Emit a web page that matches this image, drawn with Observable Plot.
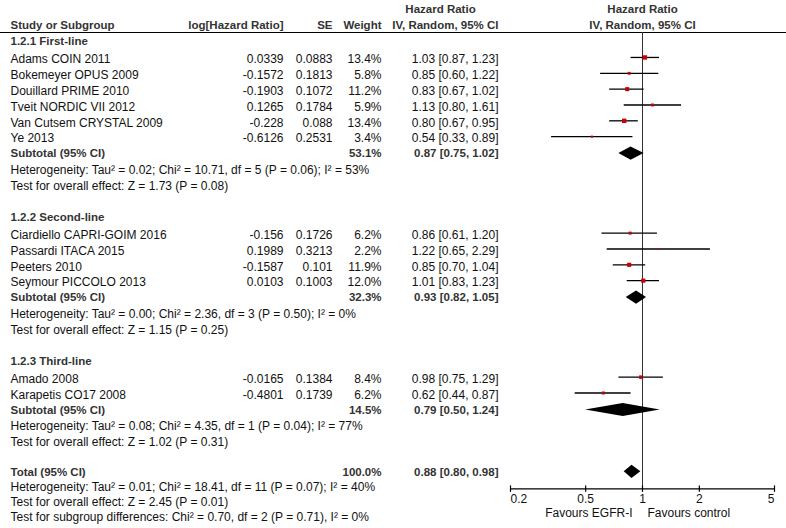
<!DOCTYPE html>
<html>
<head>
<meta charset="utf-8">
<script src="https://cdn.jsdelivr.net/npm/d3@7"></script>
<script src="https://cdn.jsdelivr.net/npm/@observablehq/plot@0.6"></script>
<style>
  body { margin: 0; background: #fff; }
  #chart { position: relative; width: 786px; height: 528px; }
  #chart svg { position: absolute; left: 0; top: 0; }
</style>
</head>
<body>
<div id="chart"></div>
<script>
// ---------------- DATA ----------------
const groupNames = ["1.2.1 First-line", "1.2.2 Second-line", "1.2.3 Third-line"];
const studyNames = [
  "Adams COIN 2011", "Bokemeyer OPUS 2009", "Douillard PRIME 2010", "Tveit NORDIC VII 2012",
  "Van Cutsem CRYSTAL 2009", "Ye 2013",
  "Ciardiello CAPRI-GOIM 2016", "Passardi ITACA 2015", "Peeters 2010", "Seymour PICCOLO 2013",
  "Amado 2008", "Karapetis CO17 2008"
];
const studyGroup = [0, 0, 0, 0, 0, 0, 1, 1, 1, 1, 2, 2];
const logHR = ["0.0339", "-0.1572", "-0.1903", "0.1265", "-0.228", "-0.6126", "-0.156", "0.1989", "-0.1587", "0.0103", "-0.0165", "-0.4801"];
const seValues = ["0.0883", "0.1813", "0.1072", "0.1784", "0.088", "0.2531", "0.1726", "0.3213", "0.101", "0.1003", "0.1384", "0.1739"];
const weights = [13.4, 5.8, 11.2, 5.9, 13.4, 3.4, 6.2, 2.2, 11.9, 12.0, 8.4, 6.2];
const hrValues = [1.03, 0.85, 0.83, 1.13, 0.80, 0.54, 0.86, 1.22, 0.85, 1.01, 0.98, 0.62];
const hrLow = [0.87, 0.60, 0.67, 0.80, 0.67, 0.33, 0.61, 0.65, 0.70, 0.83, 0.75, 0.44];
const hrHigh = [1.23, 1.22, 1.02, 1.61, 0.95, 0.89, 1.20, 2.29, 1.04, 1.23, 1.29, 0.87];

const subtotalWeights = [53.1, 32.3, 14.5];
const subtotalHR = [0.87, 0.93, 0.79];
const subtotalLow = [0.75, 0.82, 0.50];
const subtotalHigh = [1.02, 1.05, 1.24];
const groupHeterogeneity = [
  "Heterogeneity: Tau² = 0.02; Chi² = 10.71, df = 5 (P = 0.06); I² = 53%",
  "Heterogeneity: Tau² = 0.00; Chi² = 2.36, df = 3 (P = 0.50); I² = 0%",
  "Heterogeneity: Tau² = 0.08; Chi² = 4.35, df = 1 (P = 0.04); I² = 77%"
];
const groupOverallEffect = [
  "Test for overall effect: Z = 1.73 (P = 0.08)",
  "Test for overall effect: Z = 1.15 (P = 0.25)",
  "Test for overall effect: Z = 1.02 (P = 0.31)"
];

const totalWeight = 100.0;
const totalHR = 0.88;
const totalLow = 0.80;
const totalHigh = 0.98;
const totalHeterogeneity = "Heterogeneity: Tau² = 0.01; Chi² = 18.41, df = 11 (P = 0.07); I² = 40%";
const totalOverallEffect = "Test for overall effect: Z = 2.45 (P = 0.01)";
const subgroupDifferences = "Test for subgroup differences: Chi² = 0.70, df = 2 (P = 0.71), I² = 0%";

const axisTicks = [0.2, 0.5, 1, 2, 5];
const axisTickLabels = ["0.2", "0.5", "1", "2", "5"];
const favoursLeft = "Favours EGFR-I";
const favoursRight = "Favours control";

const headerStudy = "Study or Subgroup";
const headerLogHR = "log[Hazard Ratio]";
const headerSE = "SE";
const headerWeight = "Weight";
const headerHR1 = "Hazard Ratio";
const headerHR2 = "IV, Random, 95% CI";

// ---------------- LAYOUT ----------------
const W = 786, H = 528;
const FONT = "'Liberation Sans', Arial, Helvetica, sans-serif";
const REG = 12, BOLD = 11.5;
const TXT = "#111", BTXT = "#333";
const COL = { name: 10, logHR: 283, se: 332, weight: 381, ci: 498, ciHead: 440 };
const GAP = { groupFirst: 2.56, group: 1.94, studyFirst: 1.12, study: 0.99, subtotal: 0.94,
  het: 1.03, test: 1.0, total: 1.84, totalHet: 0.97, totalTest: 0.95, subdiff: 0.92 };
const Y = { head1: 0.53, head2: 1.53, rule: 2.0, axis: 30.52, tickLab: 31.16, favours: 32.06 };
const MARK_SHIFT = -0.12, DIAMOND_HALF = 0.41;

const fmt2 = v => v.toFixed(2);
const ciText = (h, l, u) => `${fmt2(h)} [${fmt2(l)}, ${fmt2(u)}]`;

let pos = 0;
const rows = [];
const add = (kind, gapKey, obj) => { pos += GAP[gapKey]; rows.push({ kind, y: pos, ...obj }); };

groupNames.forEach((g, gi) => {
  add("group", gi === 0 ? "groupFirst" : "group", { label: g });
  let first = true;
  studyNames.forEach((s, i) => {
    if (studyGroup[i] !== gi) return;
    add("study", first ? "studyFirst" : "study", {
      label: s, logHR: logHR[i], se: seValues[i], w: weights[i],
      wText: weights[i].toFixed(1) + "%", hr: hrValues[i], lo: hrLow[i], hi: hrHigh[i],
      ci: ciText(hrValues[i], hrLow[i], hrHigh[i])
    });
    first = false;
  });
  add("subtotal", "subtotal", {
    label: "Subtotal (95% CI)", wText: subtotalWeights[gi].toFixed(1) + "%",
    hr: subtotalHR[gi], lo: subtotalLow[gi], hi: subtotalHigh[gi],
    ci: ciText(subtotalHR[gi], subtotalLow[gi], subtotalHigh[gi])
  });
  add("note", "het", { label: groupHeterogeneity[gi] });
  add("note", "test", { label: groupOverallEffect[gi] });
});
add("subtotal", "total", {
  label: "Total (95% CI)", wText: totalWeight.toFixed(1) + "%",
  hr: totalHR, lo: totalLow, hi: totalHigh, ci: ciText(totalHR, totalLow, totalHigh)
});
add("note", "totalHet", { label: totalHeterogeneity });
add("note", "totalTest", { label: totalOverallEffect });
add("note", "subdiff", { label: subgroupDifferences });

const studyRows = rows.filter(r => r.kind === "study");
const summaryRows = rows.filter(r => r.kind === "subtotal");
const boldRows = rows.filter(r => r.kind === "group" || r.kind === "subtotal");
const noteRows = rows.filter(r => r.kind === "note");

const diamondPts = summaryRows.flatMap((r, i) => [
  { id: i, x: r.lo, y1: r.y, y2: r.y },
  { id: i, x: r.hr, y1: r.y - DIAMOND_HALF, y2: r.y + DIAMOND_HALF },
  { id: i, x: r.hi, y1: r.y, y2: r.y }
]);

const yScale = { domain: [0, H / 16], range: [0, H], axis: null };
const common = {
  width: W, height: H, margin: 0,
  style: { fontFamily: FONT, fontSize: REG + "px", background: "transparent", overflow: "visible" },
  y: yScale
};

// ---------------- TABLE ----------------
const headers = [
  { t: headerStudy, x: COL.name, a: "start", y: Y.head2 },
  { t: headerLogHR, x: COL.logHR, a: "end", y: Y.head2 },
  { t: headerSE, x: COL.se, a: "end", y: Y.head2 },
  { t: headerWeight, x: COL.weight, a: "end", y: Y.head2 },
  { t: headerHR1, x: COL.ciHead, a: "middle", y: Y.head1 },
  { t: headerHR2, x: COL.ci, a: "end", y: Y.head2 }
];
const txt = (data, opts) => Plot.text(data, { fontSize: REG, fill: TXT, ...opts });
const btxt = (data, opts) => Plot.text(data, { fontSize: BOLD, fill: BTXT, fontWeight: "bold", ...opts });

const table = Plot.plot({
  ...common,
  x: { domain: [0, W], range: [0, W], axis: null },
  marks: [
    Plot.ruleY([Y.rule], { x1: 0, x2: W, stroke: "#000", strokeWidth: 1 }),
    ...["start", "middle", "end"].map(a =>
      btxt(headers.filter(h => h.a === a), { x: "x", y: "y", text: "t", textAnchor: a })),
    btxt(boldRows, { x: COL.name, y: "y", text: "label", textAnchor: "start" }),
    txt(studyRows, { x: COL.name, y: "y", text: "label", textAnchor: "start" }),
    txt(studyRows, { x: COL.logHR, y: "y", text: "logHR", textAnchor: "end" }),
    txt(studyRows, { x: COL.se, y: "y", text: "se", textAnchor: "end" }),
    txt(studyRows, { x: COL.weight, y: "y", text: "wText", textAnchor: "end" }),
    txt(studyRows, { x: COL.ci, y: "y", text: "ci", textAnchor: "end" }),
    btxt(summaryRows, { x: COL.weight, y: "y", text: "wText", textAnchor: "end" }),
    btxt(summaryRows, { x: COL.ci, y: "y", text: "ci", textAnchor: "end" }),
    txt(noteRows, { x: COL.name, y: "y", text: "label", textAnchor: "start" })
  ]
});

// ---------------- FOREST ----------------
const tickData = axisTicks.map((v, i) => ({ v, label: axisTickLabels[i], i }));
const last = tickData.length - 1;
const forest = Plot.plot({
  ...common,
  x: { type: "log", domain: [axisTicks[0], axisTicks[last]], range: [510, 774], axis: null },
  r: { type: "sqrt", domain: [0, d3.max(weights)], range: [0, 2.48] },
  marks: [
    Plot.ruleX([1], { y1: Y.rule, y2: Y.axis, stroke: "#333", strokeWidth: 1 }),
    Plot.ruleY(studyRows, { y: d => d.y + MARK_SHIFT, x1: "lo", x2: "hi", stroke: "#000", strokeWidth: 1.3 }),
    Plot.dot(studyRows, { x: "hr", y: d => d.y + MARK_SHIFT, r: "w", symbol: "square", fill: "#c80000", stroke: null }),
    Plot.areaY(diamondPts, { x: "x", y1: "y1", y2: "y2", z: "id", fill: "#000", curve: "linear" }),
    Plot.ruleY([Y.axis], { x1: axisTicks[0], x2: axisTicks[last], stroke: "#000", strokeWidth: 1.2 }),
    Plot.ruleX(tickData, { x: "v", y1: Y.axis - 0.18, y2: Y.axis + 0.22, stroke: "#000", strokeWidth: 1.2 }),
    txt(tickData.filter(d => d.i === 0), { x: "v", y: Y.tickLab, text: "label", textAnchor: "start" }),
    txt(tickData.filter(d => d.i > 0 && d.i < last), { x: "v", y: Y.tickLab, text: "label", textAnchor: "middle" }),
    txt(tickData.filter(d => d.i === last), { x: "v", y: Y.tickLab, text: "label", textAnchor: "end" }),
    txt([favoursLeft], { x: 1, y: Y.favours, text: d => d, textAnchor: "end", dx: -10 }),
    txt([favoursRight], { x: 1, y: Y.favours, text: d => d, textAnchor: "start", dx: 5 }),
    btxt([headerHR1], { x: 1, y: Y.head1, text: d => d, textAnchor: "middle" }),
    btxt([headerHR2], { x: 1, y: Y.head2, text: d => d, textAnchor: "middle" })
  ]
});

const el = document.getElementById("chart");
el.appendChild(table);
el.appendChild(forest);
</script>
</body>
</html>
